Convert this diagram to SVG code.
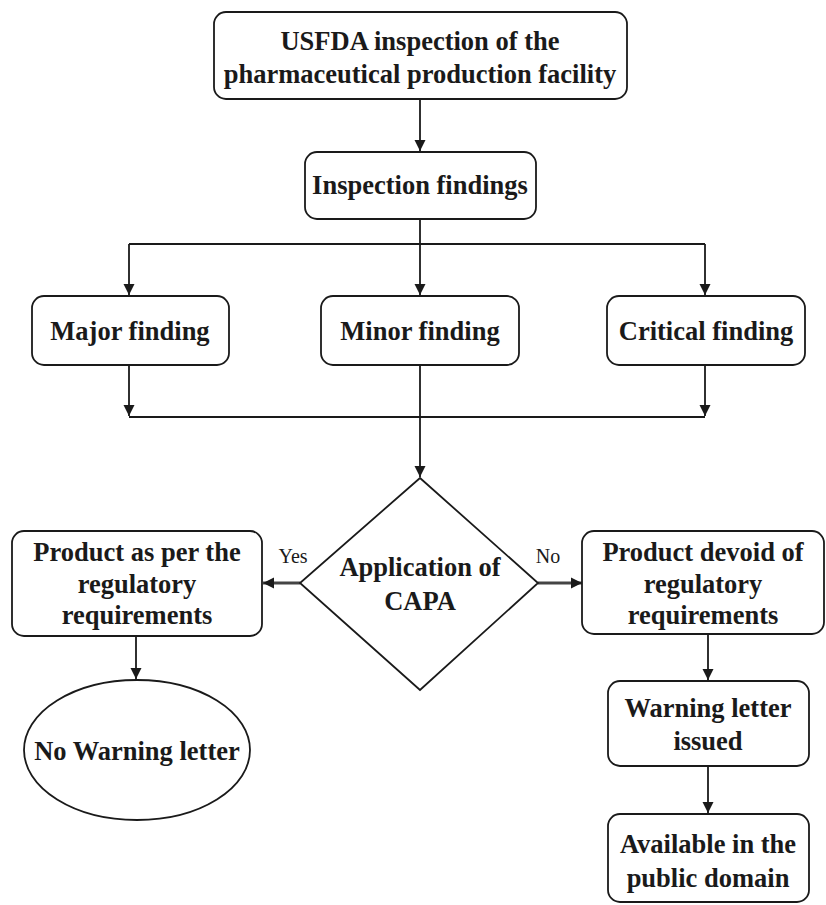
<svg xmlns="http://www.w3.org/2000/svg" width="826" height="905" viewBox="0 0 826 905">
<defs>
<style>
.box{fill:#fff;stroke:#1a1a1a;stroke-width:1.8}
.t{font-family:"Liberation Serif","Times New Roman",serif;font-weight:bold;font-size:26.5px;fill:#1a1a1a;text-anchor:middle}
.lbl{font-family:"Liberation Serif","Times New Roman",serif;font-size:20px;fill:#1a1a1a;text-anchor:middle}
.c{fill:none;stroke:#1a1a1a;stroke-width:1.8}
.c2{fill:none;stroke:#444;stroke-width:2.8}
</style>
<marker id="ah" viewBox="0 0 10 10" refX="10" refY="5" markerWidth="11" markerHeight="12" markerUnits="userSpaceOnUse" orient="auto">
<path d="M0,0 L10,5 L0,10 Z" fill="#1a1a1a"/>
</marker>
<marker id="ah2" viewBox="0 0 10 10" refX="10" refY="5" markerWidth="11" markerHeight="12" markerUnits="userSpaceOnUse" orient="auto">
<path d="M0,0 L10,5 L0,10 Z" fill="#1a1a1a"/>
</marker>
</defs>
<rect width="826" height="905" fill="#fff"/>
<g id="connectors">
<path class="c" d="M420,99 V151" marker-end="url(#ah)"/>
<path class="c" d="M420,219 V244"/>
<path class="c" d="M129,244 H705"/>
<path class="c" d="M129,244 V295" marker-end="url(#ah)"/>
<path class="c" d="M420,244 V295" marker-end="url(#ah)"/>
<path class="c" d="M705,244 V295" marker-end="url(#ah)"/>
<path class="c" d="M129,365 V416" marker-end="url(#ah)"/>
<path class="c" d="M705,365 V416" marker-end="url(#ah)"/>
<path class="c" d="M129,417 H705"/>
<path class="c" d="M420,365 V477" marker-end="url(#ah)"/>
<path class="c2" d="M300,583 H263" marker-end="url(#ah2)"/>
<path class="c2" d="M538,583 H582" marker-end="url(#ah2)"/>
<path class="c" d="M136,636 V679" marker-end="url(#ah)"/>
<path class="c" d="M708,634 V680" marker-end="url(#ah)"/>
<path class="c" d="M708,766 V813" marker-end="url(#ah)"/>
<text class="lbl" x="293" y="563">Yes</text>
<text class="lbl" x="548" y="563">No</text>
</g>
<g id="usfda">
<rect class="box" x="214" y="12" width="413" height="87" rx="12"/>
<text class="t" x="420" y="50">USFDA inspection of the</text>
<text class="t" x="420" y="83">pharmaceutical production facility</text>
</g>
<g id="findings">
<rect class="box" x="305" y="152" width="231" height="67" rx="12"/>
<text class="t" x="420" y="194">Inspection findings</text>
</g>
<g id="major">
<rect class="box" x="32" y="296" width="197" height="69" rx="12"/>
<text class="t" x="130" y="340">Major finding</text>
</g>
<g id="minor">
<rect class="box" x="321" y="296" width="198" height="69" rx="12"/>
<text class="t" x="420" y="340">Minor finding</text>
</g>
<g id="critical">
<rect class="box" x="607" y="296" width="198" height="69" rx="12"/>
<text class="t" x="706" y="340">Critical finding</text>
</g>
<g id="capa">
<polygon class="box" points="420,478 538,583 420,690 300,583"/>
<text class="t" x="420" y="576">Application of</text>
<text class="t" x="420" y="610">CAPA</text>
</g>
<g id="asper">
<rect class="box" x="12" y="531" width="250" height="105" rx="12"/>
<text class="t" x="137" y="561">Product as per the</text>
<text class="t" x="137" y="593">regulatory</text>
<text class="t" x="137" y="624">requirements</text>
</g>
<g id="devoid">
<rect class="box" x="582" y="531" width="242" height="103" rx="12"/>
<text class="t" x="703" y="561">Product devoid of</text>
<text class="t" x="703" y="593">regulatory</text>
<text class="t" x="703" y="624">requirements</text>
</g>
<g id="nowarning">
<ellipse class="box" cx="137" cy="750" rx="113" ry="70"/>
<text class="t" x="137" y="760">No Warning letter</text>
</g>
<g id="issued">
<rect class="box" x="608" y="681" width="201" height="85" rx="12"/>
<text class="t" x="708" y="717">Warning letter</text>
<text class="t" x="708" y="750">issued</text>
</g>
<g id="public">
<rect class="box" x="608" y="814" width="201" height="88" rx="12"/>
<text class="t" x="708" y="853">Available in the</text>
<text class="t" x="708" y="887">public domain</text>
</g>
</svg>
